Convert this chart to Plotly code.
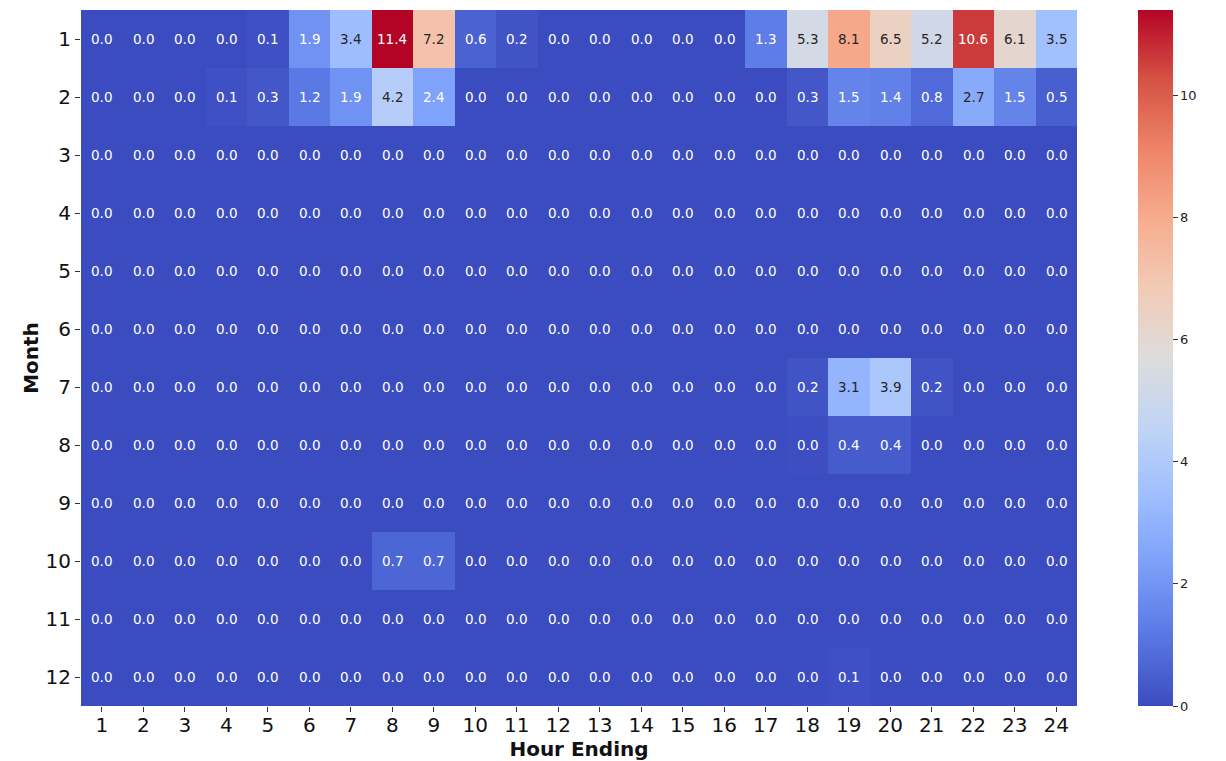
import plotly.graph_objects as go

hours = list(range(1, 25))
months = list(range(1, 13))

jan = [0.0, 0.0, 0.0, 0.0, 0.1, 1.9, 3.4, 11.4, 7.2, 0.6, 0.2, 0.0, 0.0, 0.0, 0.0, 0.0, 1.3, 5.3, 8.1, 6.5, 5.2, 10.6, 6.1, 3.5]
feb = [0.0, 0.0, 0.0, 0.1, 0.3, 1.2, 1.9, 4.2, 2.4, 0.0, 0.0, 0.0, 0.0, 0.0, 0.0, 0.0, 0.0, 0.3, 1.5, 1.4, 0.8, 2.7, 1.5, 0.5]
mar = [0.0] * 24
apr = [0.0] * 24
may = [0.0] * 24
jun = [0.0] * 24
jul = [0.0] * 17 + [0.2, 3.1, 3.9, 0.2, 0.0, 0.0, 0.0]
aug = [0.0] * 17 + [0.04, 0.4, 0.4, 0.0, 0.0, 0.0, 0.0]
sep = [0.0] * 24
octo = [0.0] * 7 + [0.7, 0.7] + [0.0] * 15
nov = [0.0] * 24
dec = [0.0] * 17 + [0.03, 0.1, 0.0, 0.0, 0.0, 0.0, 0.0]

z = [jan, feb, mar, apr, may, jun, jul, aug, sep, octo, nov, dec]

coolwarm = [
    [0.0, "#3b4cc0"], [0.1, "#5977e3"], [0.2, "#7b9ff9"], [0.3, "#9ebeff"],
    [0.4, "#c0d4f5"], [0.5, "#dddcdc"], [0.6, "#f2cbb7"], [0.7, "#f7ac8e"],
    [0.8, "#ee8468"], [0.9, "#d65244"], [1.0, "#b40426"],
]

zmax = max(max(r) for r in z)

fig = go.Figure()
fig.add_trace(go.Heatmap(
    z=z, x=hours, y=months,
    colorscale=coolwarm, zmin=0, zmax=zmax,
    colorbar=dict(
        thickness=35, len=1.0, lenmode="fraction", y=0.5, yanchor="middle",
        x=1.0612, xanchor="left", xpad=0, ypad=0, outlinewidth=0,
        tickvals=[0, 2, 4, 6, 8, 10], ticks="outside", ticklen=5,
        tickcolor="#333333", tickfont=dict(size=13, color="#222222", family="DejaVu Sans"),
    ),
))

annotations = []
for mi, row in enumerate(z):
    for hi, v in enumerate(row):
        dark = 2.6 <= v <= 9.5
        annotations.append(dict(
            x=hours[hi], y=months[mi], xref="x", yref="y",
            text=f"{v:.1f}", showarrow=False,
            font=dict(size=13.5, family="DejaVu Sans", color="#262626" if dark else "#ffffff"),
        ))

# page body adds an 8px margin, so the figure is shrunk by 8px and shifted accordingly
fig.update_layout(
    width=1218, height=753,
    margin=dict(l=73, r=149, t=2, b=55, autoexpand=False),
    paper_bgcolor="white", plot_bgcolor="white",
    annotations=annotations,
    font=dict(family="DejaVu Sans", color="#111111"),
    xaxis=dict(
        title=dict(text="<b>Hour Ending</b>", font=dict(size=20, family="DejaVu Sans"), standoff=1),
        tickmode="array", tickvals=hours, ticktext=[str(h) for h in hours],
        range=[0.5, 24.5], automargin=True,
        tickfont=dict(size=20), ticks="outside", ticklen=5, tickcolor="#333333",
        ticklabelstandoff=-4,
        showgrid=False, zeroline=False, showline=False,
    ),
    yaxis=dict(
        title=dict(text="<b>Month</b>", font=dict(size=20, family="DejaVu Sans"), standoff=1),
        tickmode="array", tickvals=months, ticktext=[str(m) for m in months],
        range=[12.5, 0.5], automargin=True,
        tickfont=dict(size=20), ticks="outside", ticklen=5, tickcolor="#333333",
        showgrid=False, zeroline=False, showline=False,
    ),
)

fig.write_html("out.html")
